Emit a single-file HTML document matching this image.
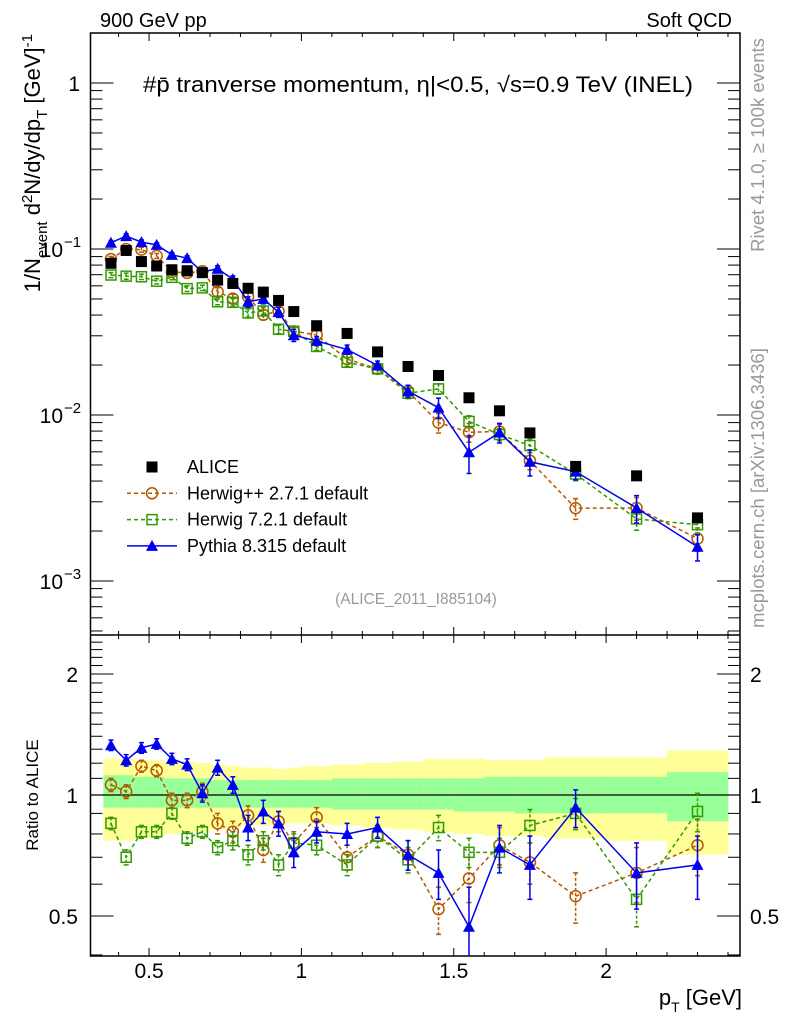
<!DOCTYPE html>
<html><head><meta charset="utf-8"><style>
body{margin:0;background:#fff;}
svg{display:block;font-family:"Liberation Sans",sans-serif;}
</style></head><body>
<svg id="c" width="786" height="1024" viewBox="0 0 786 1024" xmlns="http://www.w3.org/2000/svg"></svg>
<script>
const xCenters=[0.375,0.425,0.475,0.525,0.575,0.625,0.675,0.725,0.775,0.825,0.875,0.925,0.975,1.05,1.15,1.25,1.35,1.45,1.55,1.65,1.75,1.9,2.1,2.3];
const binLo=[0.35,0.4,0.45,0.5,0.55,0.6,0.65,0.7,0.75,0.8,0.85,0.9,0.95,1.0,1.1,1.2,1.3,1.4,1.5,1.6,1.7,1.8,2.0,2.2];
const binHi=[0.4,0.45,0.5,0.55,0.6,0.65,0.7,0.75,0.8,0.85,0.9,0.95,1.0,1.1,1.2,1.3,1.4,1.5,1.6,1.7,1.8,2.0,2.2,2.4];
const alice=[0.082,0.098,0.084,0.079,0.075,0.074,0.072,0.065,0.062,0.058,0.055,0.049,0.042,0.0345,0.031,0.024,0.0196,0.0173,0.0127,0.0106,0.0078,0.0049,0.0043,0.0024];
const ratioPythia=[1.33,1.22,1.31,1.34,1.23,1.19,1.01,1.17,1.06,0.83,0.91,0.85,0.72,0.81,0.80,0.83,0.71,0.64,0.47,0.74,0.67,0.93,0.64,0.67];
const errPythia=[0.04,0.04,0.04,0.04,0.04,0.04,0.05,0.05,0.05,0.06,0.06,0.06,0.06,0.05,0.05,0.05,0.06,0.09,0.12,0.1,0.12,0.1,0.12,0.12];
const ratioHpp=[1.06,1.02,1.18,1.15,0.97,0.97,1.02,0.85,0.81,0.89,0.73,0.86,0.76,0.88,0.70,0.79,0.71,0.52,0.62,0.75,0.68,0.56,0.64,0.75];
const errHpp=[0.04,0.04,0.04,0.04,0.04,0.04,0.05,0.05,0.05,0.05,0.05,0.05,0.05,0.05,0.05,0.05,0.06,0.07,0.08,0.08,0.08,0.08,0.1,0.12];
const ratioH7=[0.85,0.70,0.81,0.81,0.90,0.78,0.81,0.74,0.77,0.71,0.77,0.67,0.76,0.75,0.67,0.79,0.69,0.83,0.72,0.72,0.84,0.90,0.55,0.91];
const errH7=[0.03,0.03,0.03,0.03,0.03,0.03,0.03,0.03,0.04,0.04,0.04,0.04,0.04,0.04,0.04,0.05,0.05,0.06,0.06,0.06,0.08,0.08,0.08,0.1];
const bandOuterUp=[1.23,1.23,1.22,1.22,1.21,1.21,1.2,1.19,1.18,1.17,1.17,1.16,1.17,1.18,1.19,1.2,1.21,1.23,1.23,1.22,1.22,1.24,1.24,1.29];
const bandOuterDn=[0.77,0.77,0.78,0.79,0.8,0.81,0.81,0.82,0.83,0.84,0.84,0.85,0.85,0.85,0.84,0.83,0.82,0.81,0.8,0.79,0.79,0.78,0.77,0.71];
const bandInnerUp=[1.12,1.12,1.11,1.11,1.1,1.1,1.1,1.09,1.09,1.09,1.09,1.09,1.09,1.09,1.1,1.1,1.1,1.1,1.1,1.11,1.11,1.11,1.11,1.14];
const bandInnerDn=[0.93,0.93,0.93,0.93,0.93,0.93,0.93,0.93,0.93,0.93,0.93,0.93,0.93,0.93,0.92,0.92,0.92,0.92,0.91,0.91,0.9,0.9,0.9,0.86];
const xMajor=[0.5,1,1.5,2];
const xTickLabels=["0.5","1","1.5","2"];
const yMainMajor=[1,0.1,0.01,0.001];
const yMainLabels=["1","10","10","10"];
const yMainExp=["","−1","−2","−3"];
const yRatioMajor=[0.5,1,2];
const yRatioLabels=["0.5","1","2"];

const NS="http://www.w3.org/2000/svg";
const svg=document.getElementById('c');
function el(tag,attrs,parent){const e=document.createElementNS(NS,tag);for(const k in attrs)e.setAttribute(k,attrs[k]);(parent||svg).appendChild(e);return e;}
const L=90.5,R=740,T=33,MB=635,RB=956;
const X=v=>-3.3+304.7*v;
const YM=v=>83-166*Math.log10(v);
const YR=v=>795-121*Math.log2(v);

const defs=el('defs',{});
const cp1=el('clipPath',{id:'cm'},defs);el('rect',{x:L,y:T,width:R-L,height:MB-T},cp1);
const cp2=el('clipPath',{id:'cr'},defs);el('rect',{x:L,y:MB,width:R-L,height:RB-MB},cp2);

const gb=el('g',{'clip-path':'url(#cr)'});


for(let i=0;i<xCenters.length;i++){
  const x0=X(binLo[i]),x1=X(binHi[i]);
  const r1=el('rect',{x:x0,y:YR(bandOuterUp[i]),width:x1-x0+0.5,height:YR(bandOuterDn[i])-YR(bandOuterUp[i]),fill:'#ffff99'},gb);
  
  
  const r2=el('rect',{x:x0,y:YR(bandInnerUp[i]),width:x1-x0+0.5,height:YR(bandInnerDn[i])-YR(bandInnerUp[i]),fill:'#99ff99'},gb);
  
  
}
el('line',{x1:L,x2:R,y1:YR(1),y2:YR(1),stroke:'#000','stroke-width':1.3});

el('rect',{x:L,y:T,width:R-L,height:RB-T,fill:'none',stroke:'#000','stroke-width':1.5});
el('line',{x1:L,x2:R,y1:MB,y2:MB,stroke:'#000','stroke-width':1.5});

const gt=el('g',{stroke:'#000','stroke-width':1});
for(let k=4;k<=24;k++){const v=k/10;const x=X(v);if(x<L||x>R)continue;
  const maj=(k%5===0);const len=maj?8:4;
  [T,MB].forEach(y=>el('line',{x1:x,x2:x,y1:y,y2:y+len},gt));
  [MB,RB].forEach(y=>el('line',{x1:x,x2:x,y1:y,y2:y-len},gt));
}
xMajor.forEach((v,i)=>{const t=el('text',{x:X(v),y:978,'font-size':21,'text-anchor':'middle'});t.textContent=xTickLabels[i];
  
  });
for(let d=-4;d<=0;d++){for(let m=1;m<=9;m++){const v=m*Math.pow(10,d);const y=YM(v);if(y<T||y>MB)continue;
  const len=m===1?23:12;el('line',{x1:L,x2:L+len,y1:y,y2:y},gt);el('line',{x1:R,x2:R-len,y1:y,y2:y},gt);}}
yMainMajor.forEach((v,i)=>{const y=YM(v);const t=el('text',{x:yMainExp[i]?63:80,y:y+8,'font-size':21,'text-anchor':'end'});t.textContent=yMainLabels[i];
  
  
  if(yMainExp[i]){const s=el('text',{x:64,y:y-2,'font-size':15});s.textContent=yMainExp[i];}});
for(let k=4;k<=25;k++){const v=k/10;const y=YR(v);if(y<MB||y>RB)continue;
  const len=(k===5||k===10||k===20)?23:12;el('line',{x1:L,x2:L+len,y1:y,y2:y},gt);el('line',{x1:R,x2:R-len,y1:y,y2:y},gt);}
yRatioMajor.forEach((v,i)=>{const y=YR(v);
  const t=el('text',{x:78,y:y+8,'font-size':21,'text-anchor':'end'});t.textContent=yRatioLabels[i];
  
  
  const t2=el('text',{x:750,y:y+8,'font-size':21});t2.textContent=yRatioLabels[i];
  
  });

const series=[
 {name:'herwigpp',r:ratioHpp,e:errHpp,c:'#b35900',dash:'4,3',m:'circle'},
 {name:'herwig7',r:ratioH7,e:errH7,c:'#339900',dash:'4,3',m:'square'},
 {name:'pythia',r:ratioPythia,e:errPythia,c:'#0000ee',dash:'',m:'tri'}];
function marker(g,m,x,y,c){
  if(m==='circle')el('circle',{cx:x,cy:y,r:5.5,fill:'none',stroke:c,'stroke-width':1.5},g);
  else if(m==='square')el('rect',{x:x-5,y:y-5,width:10,height:10,fill:'none',stroke:c,'stroke-width':1.5},g);
  else if(m==='tri')el('path',{d:`M${x-6},${y+5}L${x+6},${y+5}L${x},${y-6}Z`,fill:c},g);
  else el('rect',{x:x-5.5,y:y-5.5,width:11,height:11,fill:'#000'},g);
}
series.forEach(s=>{
  [['cm',YM,true],['cr',YR,false]].forEach(([cl,Y,main])=>{
    const g=el('g',{'clip-path':`url(#${cl})`});
    
    
    const val=i=>main?s.r[i]*alice[i]:s.r[i];
    const pts=xCenters.map((x,i)=>`${X(x)},${Y(val(i))}`).join(' ');
    el('polyline',{points:pts,fill:'none',stroke:s.c,'stroke-width':1.5,'stroke-dasharray':s.dash},g);
    xCenters.forEach((x,i)=>{const px=X(x);
      const hi=main?(s.r[i]+s.e[i])*alice[i]:s.r[i]+s.e[i];
      const lo=main?(s.r[i]-s.e[i])*alice[i]:s.r[i]-s.e[i];
      el('line',{x1:px,x2:px,y1:Y(hi),y2:Y(lo),stroke:s.c,'stroke-width':1.5,'stroke-dasharray':s.dash?'3,2':''},g);
      el('line',{x1:px-2.5,x2:px+2.5,y1:Y(hi),y2:Y(hi),stroke:s.c,'stroke-width':1.5},g);
      el('line',{x1:px-2.5,x2:px+2.5,y1:Y(lo),y2:Y(lo),stroke:s.c,'stroke-width':1.5},g);
      marker(g,s.m,px,Y(val(i)),s.c);});
  });
});
const ga=el('g',{});


xCenters.forEach((x,i)=>marker(ga,'sq',X(x),YM(alice[i]),'#000'));

const leg=[['ALICE','sq','#000',''],['Herwig++ 2.7.1 default','circle','#b35900','4,3'],['Herwig 7.2.1 default','square','#339900','4,3'],['Pythia 8.315 default','tri','#0000ee','']];
leg.forEach((l,i)=>{const y=467+i*26.3;const g=el('g',{});
  
  
  if(i>0)el('line',{x1:127,x2:177,y1:y,y2:y,stroke:l[2],'stroke-width':1.5,'stroke-dasharray':l[3]},g);
  marker(g,l[1],152,y,l[2]);
  const t=el('text',{x:187,y:y+6,'font-size':18},g);t.textContent=l[0];});

function txt(x,y,s,attrs,name){const t=el('text',Object.assign({x:x,y:y},attrs));t.innerHTML=s;
  
  return t;}
txt(100,27,'900 GeV pp',{'font-size':20},'energy-label');
txt(732,27,'Soft QCD',{'font-size':20,'text-anchor':'end'},'process-label');
txt(143,92,'#p̄ tranverse momentum, η|&lt;0.5, √s=0.9 TeV (INEL)',{'font-size':22,textLength:550,lengthAdjust:'spacingAndGlyphs'},'plot-title');
txt(416,604,'(ALICE_2011_I885104)',{'font-size':15.5,'text-anchor':'middle',fill:'#999'},'analysis-id');
txt(742,1005,'p<tspan dy="7" font-size="14">T</tspan><tspan dy="-7"> [GeV]</tspan>',{'font-size':22,'text-anchor':'end'},'x-axis-title');
txt(0,0,'1/N<tspan dy="7" font-size="15">event</tspan><tspan dy="-7"> d</tspan><tspan dy="-8" font-size="15">2</tspan><tspan dy="8">N/dy/dp</tspan><tspan dy="7" font-size="15">T</tspan><tspan dy="-7"> [GeV]</tspan><tspan dy="-8" font-size="15">-1</tspan>',{'font-size':22,'text-anchor':'end',transform:'translate(40,34) rotate(-90)'},'y-axis-title');
txt(0,0,'Ratio to ALICE',{'font-size':17,'text-anchor':'middle',transform:'translate(38,795) rotate(-90)'},'ratio-axis-title');
txt(0,0,'Rivet 4.1.0, ≥ 100k events',{'font-size':18.5,fill:'#999','text-anchor':'middle',transform:'translate(764,145) rotate(-90)'},'rivet-label');
txt(0,0,'mcplots.cern.ch [arXiv:1306.3436]',{'font-size':18.5,fill:'#999','text-anchor':'middle',transform:'translate(764,488) rotate(-90)'},'mcplots-label');
</script>
</body></html>
